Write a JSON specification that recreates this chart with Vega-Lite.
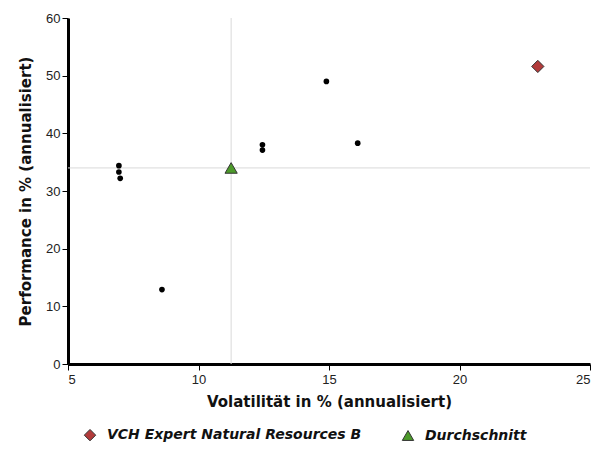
{
  "$schema": "https://vega.github.io/schema/vega-lite/v6.json",
  "width": 522,
  "height": 346,
  "autosize": "none",
  "padding": {"left": 68, "top": 18, "right": 10, "bottom": 85},
  "background": "white",
  "config": {
    "view": {"stroke": null},
    "font": "Liberation Sans",
    "axis": {
      "grid": false,
      "domain": true,
      "domainColor": "#000000",
      "domainWidth": 3,
      "tickColor": "#000000",
      "tickWidth": 1,
      "tickSize": 6,
      "labelFont": "Liberation Sans",
      "labelFontSize": 13,
      "labelColor": "#222",
      "titleFont": "DejaVu Sans",
      "titleFontSize": 15,
      "titleFontWeight": "bold",
      "titleColor": "#111"
    }
  },
  "datasets": {
    "peers": [
      {"vol": 6.95, "perf": 34.4},
      {"vol": 6.95, "perf": 33.3},
      {"vol": 7.0, "perf": 32.2},
      {"vol": 8.6, "perf": 12.9},
      {"vol": 12.45, "perf": 38.0},
      {"vol": 12.45, "perf": 37.1},
      {"vol": 14.9, "perf": 49.0},
      {"vol": 16.1, "perf": 38.3}
    ],
    "highlight": [
      {"vol": 23.0, "perf": 51.6, "serie": "VCH Expert Natural Resources B"},
      {"vol": 11.25, "perf": 34.0, "serie": "Durchschnitt"}
    ],
    "avg": [{"vol": 11.25, "perf": 34.0}]
  },
  "layer": [
    {
      "data": {"name": "avg"},
      "mark": {"type": "rule", "color": "#d9d9d9", "strokeWidth": 1},
      "encoding": {
        "x": {"field": "vol", "type": "quantitative", "scale": {"domain": [5, 25], "nice": false},
          "axis": {"title": "Volatilität in % (annualisiert)", "values": [5, 10, 15, 20, 25], "titlePadding": 8, "labelPadding": 3, "domainWidth": 3}}
      }
    },
    {
      "data": {"name": "avg"},
      "mark": {"type": "rule", "color": "#d9d9d9", "strokeWidth": 1},
      "encoding": {
        "y": {"field": "perf", "type": "quantitative", "scale": {"domain": [0, 60], "nice": false},
          "axis": {"title": "Performance in % (annualisiert)", "values": [0, 10, 20, 30, 40, 50, 60], "titlePadding": 12, "labelPadding": 2, "domainWidth": 3}}
      }
    },
    {
      "data": {"name": "peers"},
      "mark": {"type": "point", "filled": true, "color": "black", "size": 32, "opacity": 1},
      "encoding": {
        "x": {"field": "vol", "type": "quantitative"},
        "y": {"field": "perf", "type": "quantitative"}
      }
    },
    {
      "data": {"name": "highlight"},
      "mark": {"type": "point", "filled": true, "stroke": "#333", "strokeWidth": 1, "opacity": 1, "size": 150},
      "encoding": {
        "x": {"field": "vol", "type": "quantitative"},
        "y": {"field": "perf", "type": "quantitative"},
        "shape": {
          "field": "serie", "type": "nominal",
          "scale": {"domain": ["VCH Expert Natural Resources B", "Durchschnitt"], "range": ["diamond", "triangle-up"]},
          "legend": null
        },
        "color": {
          "field": "serie", "type": "nominal",
          "scale": {"domain": ["VCH Expert Natural Resources B", "Durchschnitt"], "range": ["#b23b3b", "#4c9a2a"]},
          "legend": {
            "title": null,
            "orient": "none",
            "legendX": 15,
            "legendY": 410,
            "direction": "horizontal",
            "columns": 2,
            "columnPadding": 38,
            "symbolType": "diamond",
            "symbolSize": 130,
            "symbolStrokeColor": "#333",
            "symbolStrokeWidth": 1,
            "labelFont": "DejaVu Sans",
            "labelFontSize": 14,
            "labelFontWeight": "bold",
            "labelFontStyle": "italic",
            "labelColor": "#111",
            "labelLimit": 400,
            "labelOffset": 10
          }
        }
      }
    }
  ]
}
